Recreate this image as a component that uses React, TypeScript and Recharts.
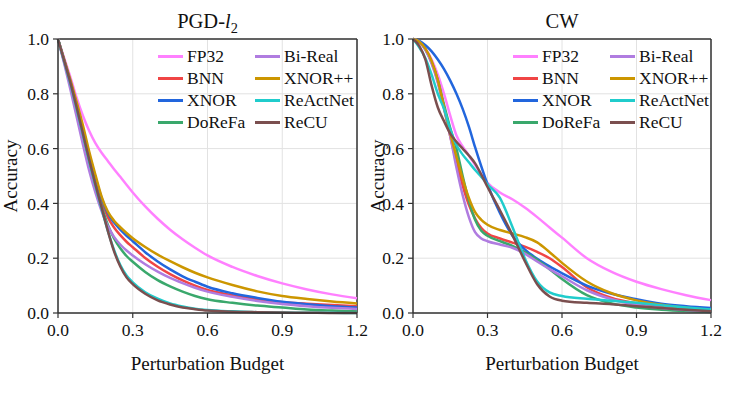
import { LineChart, Line, XAxis, YAxis, CartesianGrid, ReferenceLine } from 'recharts';
import type { ReactNode } from 'react';

const FONT = '"Liberation Serif", "Times New Roman", serif';

const budgets = [0, 0.025, 0.05, 0.075, 0.1, 0.125, 0.15, 0.175, 0.2, 0.225, 0.25, 0.275, 0.3, 0.35, 0.4, 0.45, 0.5, 0.55, 0.6, 0.7, 0.8, 0.9, 1.0, 1.1, 1.2];
const xTicks = [0, 0.3, 0.6, 0.9, 1.2];
const yTicks = [0, 0.2, 0.4, 0.6, 0.8, 1.0];

const models = ['FP32', 'BNN', 'XNOR', 'DoReFa', 'Bi-Real', 'XNOR++', 'ReActNet', 'ReCU'];
const colors = ['#ff80ff', '#f04545', '#2266dd', '#3aa86c', '#b07ce0', '#cc9600', '#20cccc', '#7b4f4f'];

// PGD-l2 accuracy per model
const pgdFP32 = [1, 0.93, 0.86, 0.785, 0.72, 0.665, 0.62, 0.585, 0.555, 0.525, 0.497, 0.468, 0.44, 0.389, 0.344, 0.304, 0.269, 0.238, 0.21, 0.168, 0.135, 0.108, 0.086, 0.068, 0.054];
const pgdBNN = [1, 0.92, 0.84, 0.755, 0.665, 0.57, 0.485, 0.41, 0.35, 0.312, 0.284, 0.26, 0.24, 0.201, 0.169, 0.142, 0.119, 0.1, 0.084, 0.065, 0.05, 0.039, 0.034, 0.029, 0.025];
const pgdXNOR = [1, 0.922, 0.845, 0.76, 0.672, 0.58, 0.495, 0.42, 0.364, 0.33, 0.304, 0.282, 0.262, 0.222, 0.188, 0.159, 0.134, 0.114, 0.096, 0.072, 0.055, 0.041, 0.032, 0.025, 0.02];
const pgdDoReFa = [1, 0.915, 0.83, 0.74, 0.645, 0.55, 0.465, 0.388, 0.322, 0.272, 0.236, 0.208, 0.187, 0.15, 0.12, 0.097, 0.078, 0.062, 0.05, 0.037, 0.027, 0.02, 0.013, 0.009, 0.006];
const pgdBiReal = [1, 0.91, 0.815, 0.715, 0.615, 0.52, 0.44, 0.372, 0.317, 0.278, 0.25, 0.228, 0.21, 0.178, 0.151, 0.128, 0.109, 0.092, 0.078, 0.059, 0.044, 0.033, 0.025, 0.019, 0.015];
const pgdXNORpp = [1, 0.925, 0.85, 0.77, 0.685, 0.59, 0.505, 0.425, 0.37, 0.337, 0.313, 0.292, 0.273, 0.241, 0.213, 0.189, 0.167, 0.147, 0.13, 0.102, 0.079, 0.062, 0.051, 0.042, 0.035];
const pgdReActNet = [1, 0.918, 0.835, 0.745, 0.65, 0.555, 0.465, 0.38, 0.3, 0.23, 0.175, 0.137, 0.112, 0.076, 0.052, 0.035, 0.024, 0.016, 0.011, 0.006, 0.003, 0.0015, 0.001, 0.0005, 0];
const pgdReCU = [1, 0.92, 0.84, 0.75, 0.655, 0.56, 0.47, 0.385, 0.3, 0.225, 0.17, 0.13, 0.105, 0.07, 0.046, 0.031, 0.02, 0.014, 0.009, 0.005, 0.003, 0.0015, 0.001, 0, 0];

// CW accuracy per model
const cwFP32 = [1, 0.99, 0.965, 0.925, 0.87, 0.8, 0.72, 0.648, 0.608, 0.575, 0.54, 0.505, 0.475, 0.44, 0.415, 0.385, 0.35, 0.312, 0.275, 0.2, 0.15, 0.114, 0.087, 0.065, 0.047];
const cwBNN = [1, 0.99, 0.962, 0.915, 0.845, 0.75, 0.645, 0.55, 0.465, 0.395, 0.345, 0.31, 0.29, 0.272, 0.257, 0.242, 0.223, 0.2, 0.168, 0.094, 0.055, 0.035, 0.022, 0.014, 0.008];
const cwXNOR = [1, 0.993, 0.977, 0.955, 0.925, 0.89, 0.848, 0.8, 0.745, 0.68, 0.605, 0.535, 0.47, 0.365, 0.283, 0.232, 0.198, 0.17, 0.145, 0.1, 0.07, 0.05, 0.034, 0.025, 0.018];
const cwDoReFa = [1, 0.99, 0.962, 0.915, 0.85, 0.76, 0.675, 0.6, 0.5, 0.41, 0.34, 0.3, 0.282, 0.262, 0.245, 0.222, 0.194, 0.16, 0.124, 0.065, 0.035, 0.02, 0.012, 0.007, 0.004];
const cwBiReal = [1, 0.99, 0.96, 0.91, 0.84, 0.745, 0.645, 0.53, 0.43, 0.35, 0.295, 0.272, 0.262, 0.25, 0.238, 0.217, 0.188, 0.16, 0.134, 0.083, 0.05, 0.03, 0.018, 0.011, 0.006];
const cwXNORpp = [1, 0.99, 0.965, 0.92, 0.85, 0.75, 0.655, 0.57, 0.49, 0.42, 0.368, 0.34, 0.322, 0.303, 0.29, 0.277, 0.258, 0.222, 0.183, 0.115, 0.072, 0.046, 0.03, 0.019, 0.011];
const cwReActNet = [1, 0.97, 0.93, 0.87, 0.8, 0.745, 0.67, 0.613, 0.578, 0.55, 0.522, 0.497, 0.47, 0.42, 0.315, 0.2, 0.115, 0.075, 0.062, 0.052, 0.045, 0.037, 0.028, 0.02, 0.013];
const cwReCU = [1, 0.975, 0.925, 0.83, 0.75, 0.7, 0.655, 0.625, 0.6, 0.575, 0.546, 0.505, 0.46, 0.375, 0.285, 0.19, 0.105, 0.06, 0.045, 0.037, 0.032, 0.025, 0.018, 0.012, 0.006];

const pgdSeries = [pgdFP32, pgdBNN, pgdXNOR, pgdDoReFa, pgdBiReal, pgdXNORpp, pgdReActNet, pgdReCU];
const cwSeries = [cwFP32, cwBNN, cwXNOR, cwDoReFa, cwBiReal, cwXNORpp, cwReActNet, cwReCU];

function toRows(series: number[][]) {
  return budgets.map((x, i) => {
    const row: Record<string, number> = { x };
    models.forEach((m, k) => {
      row[m] = series[k][i];
    });
    return row;
  });
}

const fmt = (v: number) => v.toFixed(1);
const tickStyle = { fontSize: 17.5, fill: '#111', fontFamily: FONT };
const labelStyle = { fontSize: 19, fill: '#111', fontFamily: FONT };

interface PanelProps {
  left: number;
  width: number;
  plotLeft: number;
  plotRight: number;
  title: ReactNode;
  series: number[][];
  labelOffset: number;
}

function Panel({ left, width, plotLeft, plotRight, title, series, labelOffset }: PanelProps) {
  const data = toRows(series);
  const center = (plotLeft + plotRight) / 2;
  return (
    <>
      <div style={{ position: 'absolute', left, top: 0, width, height: 393 }}>
        <LineChart
          width={width}
          height={393}
          data={data}
          margin={{ top: 39, right: width - (plotRight - left), left: 0, bottom: 0 }}
        >
          <CartesianGrid stroke="#e2e2e2" strokeWidth={1} />
          <XAxis
            type="number"
            dataKey="x"
            domain={[0, 1.2]}
            ticks={xTicks}
            tickFormatter={fmt}
            height={80}
            tickSize={5}
            tickMargin={6}
            stroke="#333"
            axisLine={{ stroke: '#333', strokeWidth: 1.5 }}
            tickLine={{ stroke: '#333', strokeWidth: 1.2 }}
            tick={tickStyle}
            label={{ value: 'Perturbation Budget', position: 'insideBottom', offset: 23, style: labelStyle }}
          />
          <YAxis
            type="number"
            domain={[0, 1]}
            ticks={yTicks}
            tickFormatter={fmt}
            width={plotLeft - left}
            tickSize={5}
            tickMargin={4}
            stroke="#333"
            axisLine={{ stroke: '#333', strokeWidth: 1.5 }}
            tickLine={{ stroke: '#333', strokeWidth: 1.2 }}
            tick={tickStyle}
            label={{ value: 'Accuracy', angle: -90, position: 'insideLeft', offset: labelOffset, style: { ...labelStyle, textAnchor: 'middle' } }}
          />
          <ReferenceLine y={1} stroke="#333" strokeWidth={1.5} />
          <ReferenceLine x={1.2} stroke="#333" strokeWidth={1.5} />
          {models.map((m, k) => (
            <Line
              key={m}
              type="monotone"
              dataKey={m}
              stroke={colors[k]}
              strokeWidth={2.5}
              dot={false}
              isAnimationActive={false}
            />
          ))}
        </LineChart>
      </div>
      <div
        style={{
          position: 'absolute',
          left: center - 100,
          width: 200,
          top: 10,
          textAlign: 'center',
          fontSize: 20.5,
          color: '#111',
        }}
      >
        {title}
      </div>
      {models.map((m, k) => {
        const col = Math.floor(k / 4);
        const row = k % 4;
        return (
          <div
            key={m}
            style={{
              position: 'absolute',
              left: plotLeft + 100 + col * 97,
              top: 56.7 + row * 21.9 - 11,
              height: 22,
              display: 'flex',
              alignItems: 'center',
              fontSize: 17.5,
              color: '#111',
              whiteSpace: 'nowrap',
            }}
          >
            <div style={{ width: 25, height: 2.5, background: colors[k], marginRight: 4 }} />
            <span>{m}</span>
          </div>
        );
      })}
    </>
  );
}

export default function App() {
  return (
    <div
      style={{
        position: 'absolute',
        left: 0,
        top: 0,
        width: 747,
        height: 393,
        background: '#fff',
        fontFamily: FONT,
        overflow: 'hidden',
      }}
    >
      <Panel
        left={0}
        width={374}
        plotLeft={58}
        plotRight={357}
        series={pgdSeries}
        labelOffset={10}
        title={
          <span>
            PGD-<i>l</i>
            <sub style={{ fontSize: '0.7em', lineHeight: 0 }}>2</sub>
          </span>
        }
      />
      <Panel
        left={360}
        width={387}
        plotLeft={413}
        plotRight={711}
        series={cwSeries}
        labelOffset={17}
        title={<span>CW</span>}
      />
    </div>
  );
}
